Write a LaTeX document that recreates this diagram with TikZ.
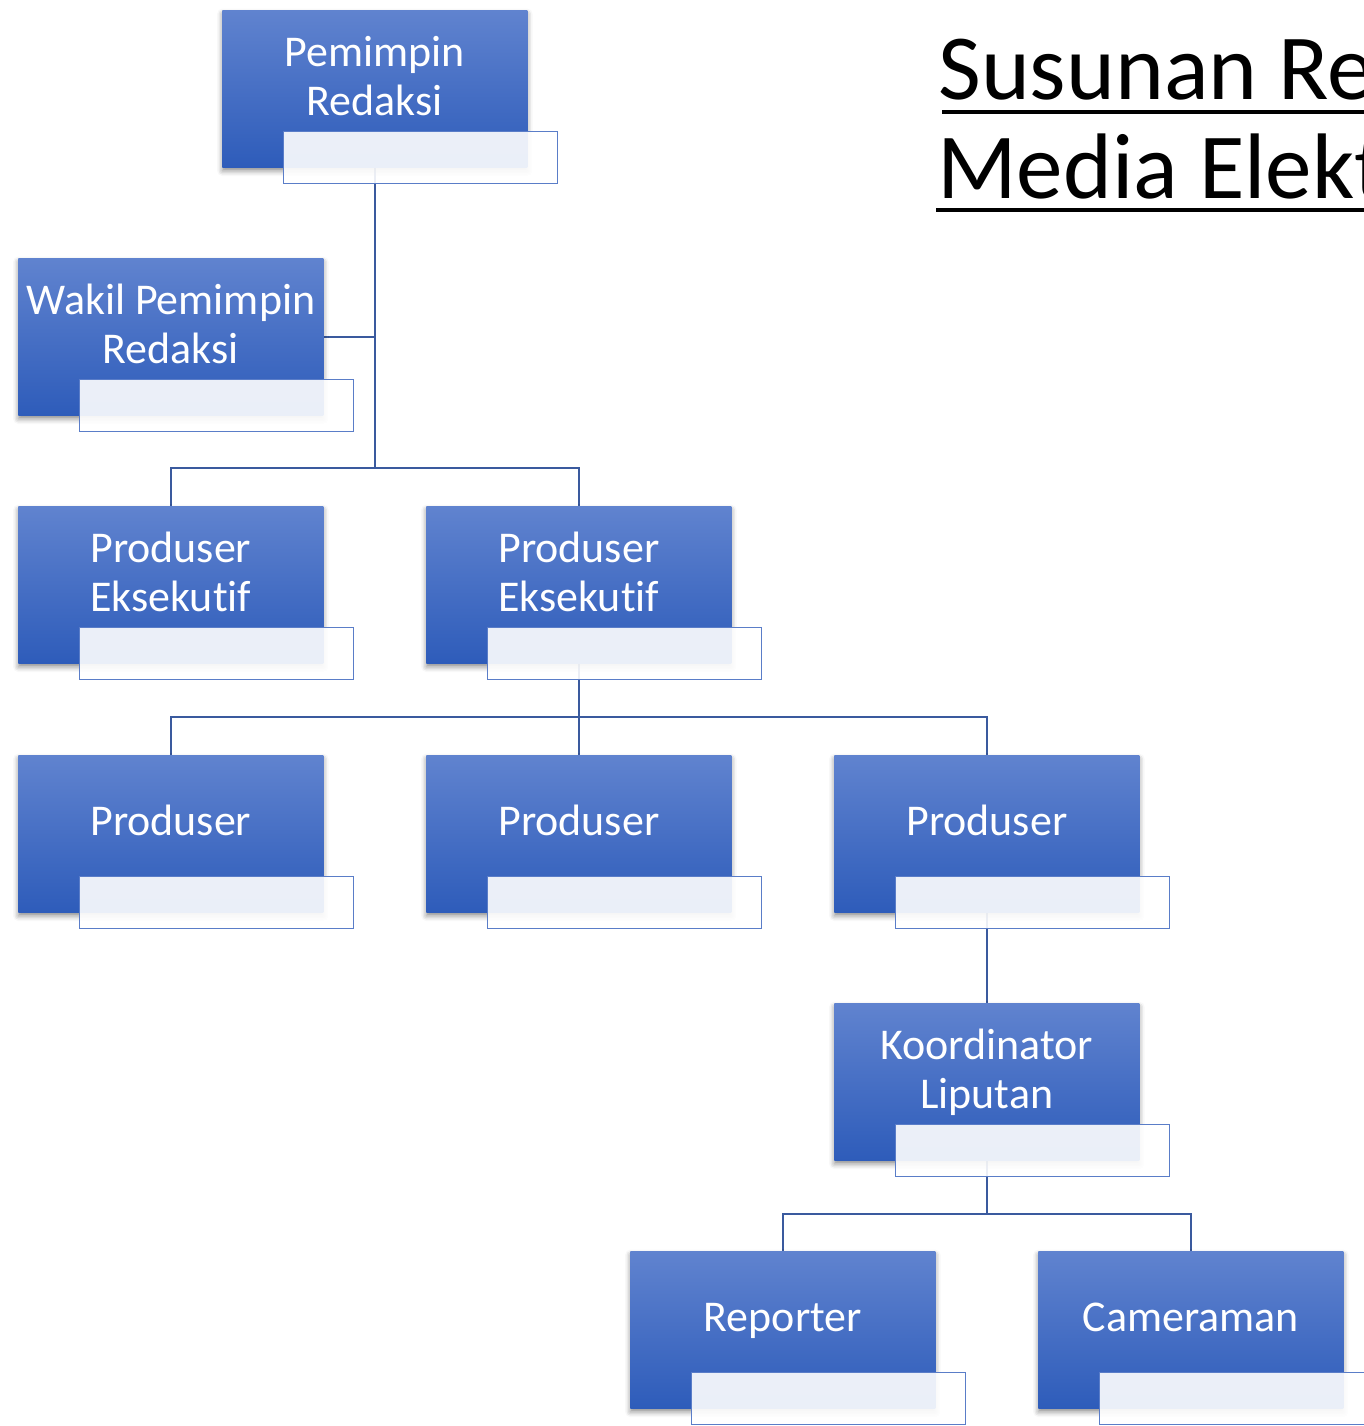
\documentclass[tikz,border=0pt]{standalone}
\usepackage{fontspec}
\setmainfont{Carlito}[Ligatures=NoCommon]
\usetikzlibrary{calc,shadows.blur,backgrounds}
\definecolor{boxtop}{RGB}{96,131,207}
\definecolor{boxbot}{RGB}{46,92,186}
\definecolor{conncol}{RGB}{58,90,158}
\definecolor{subline}{RGB}{90,125,200}
\tikzset{
  orgbox/.style={rectangle, inner sep=0pt, minimum width=6.1cm, minimum height=3.14cm,
    top color=boxtop, bottom color=boxbot, draw=none,
    blur shadow={shadow xshift=0pt, shadow yshift=-2pt, shadow blur radius=3pt, shadow opacity=45}},
  subbox/.style={rectangle, inner sep=0pt, minimum width=5.48cm, minimum height=1.04cm,
    fill=white, fill opacity=0.9, draw=subline, line width=0.7pt},
  boxlabel/.style={text=white, align=center, inner sep=0pt,
    font=\fontsize{25}{28.4}\selectfont},
  conn/.style={draw=conncol, line width=1.2pt},
  titletext/.style={inner sep=0pt, anchor=base west, font=\fontsize{53}{64}\selectfont},
  uline/.style={line width=2.8pt, black}
}
\begin{document}
\begin{tikzpicture}[x=0.02cm, y=-0.02cm]
\clip (0,0) rectangle (1364,1426);
% boxes
\node[orgbox, anchor=north west] (pr) at (222,10) {};
\node[orgbox, anchor=north west] (wk) at (18,258) {};
\node[orgbox, anchor=north west] (pe1) at (18,506) {};
\node[orgbox, anchor=north west] (pe2) at (426,506) {};
\node[orgbox, anchor=north west] (pd1) at (18,755) {};
\node[orgbox, anchor=north west] (pd2) at (426,755) {};
\node[orgbox, anchor=north west] (pd3) at (834,755) {};
\node[orgbox, anchor=north west] (ko) at (834,1003) {};
\node[orgbox, anchor=north west] (rp) at (630,1251) {};
\node[orgbox, anchor=north west] (cm) at (1038,1251) {};
% labels
\node[boxlabel] (prt) at ($(pr.north)+(0,71)$) {\strut Pemimpin\\\strut Redaksi};
\node[boxlabel] (wkt) at ($(wk.north)+(0,71)$) {\strut Wakil Pemimpin\\\strut Redaksi};
\node[boxlabel] (pe1t) at ($(pe1.north)+(0,71)$) {\strut Produser\\\strut Eksekutif};
\node[boxlabel] (pe2t) at ($(pe2.north)+(0,71)$) {\strut Produser\\\strut Eksekutif};
\node[boxlabel] (pd1t) at ($(pd1.north)+(0,71)$) {\strut Produser};
\node[boxlabel] (pd2t) at ($(pd2.north)+(0,71)$) {\strut Produser};
\node[boxlabel] (pd3t) at ($(pd3.north)+(0,71)$) {\strut Produser};
\node[boxlabel] (kot) at ($(ko.north)+(0,71)$) {\strut Koordinator\\\strut Liputan};
\node[boxlabel] (rpt) at ($(rp.north)+(0,71)$) {\strut Reporter};
\node[boxlabel] (cmt) at ($(cm.north)+(0,71)$) {\strut Cameraman};
% sub boxes
\foreach \b in {pr,wk,pe1,pe2,pd1,pd2,pd3,ko,rp,cm}{
  \node[subbox, anchor=north west] (\b s) at ($(\b.north west)+(61,121)$) {};
}
% connectors
\begin{pgfonlayer}{background}
\coordinate (bar1) at ($(pe1.north)+(0,-38)$);
\coordinate (bar2) at ($(pd1.north)+(0,-38)$);
\coordinate (bar3) at ($(rp.north)+(0,-37)$);
\draw[conn] (pr.center) -- (pr.center |- bar1);
\draw[conn] (wk.east) -- (wk.east -| pr.center);
\draw[conn] (pe1.north) -- (bar1) -| (pe2.north);
\draw[conn] (pe2.center) -- (pd2.north);
\draw[conn] (pd1.north) -- (bar2) -| (pd3.north);
\draw[conn] (pd3.center) -- (ko.north);
\draw[conn] (ko.center) -- (ko.center |- bar3);
\draw[conn] (rp.north) -- (bar3) -| (cm.north);
\end{pgfonlayer}
% title
\node[titletext] (t1) at (938,100) {Susunan Re};
\node[titletext] (t2) at (937,198) {Media Elekt};
\draw[uline] ($(t1.base west)+(4,12)$) -- ($(t1.base west)+(430,12)$);
\draw[uline] ($(t2.base west)+(-1,12)$) -- ($(t2.base west)+(430,12)$);
\end{tikzpicture}
\end{document}
